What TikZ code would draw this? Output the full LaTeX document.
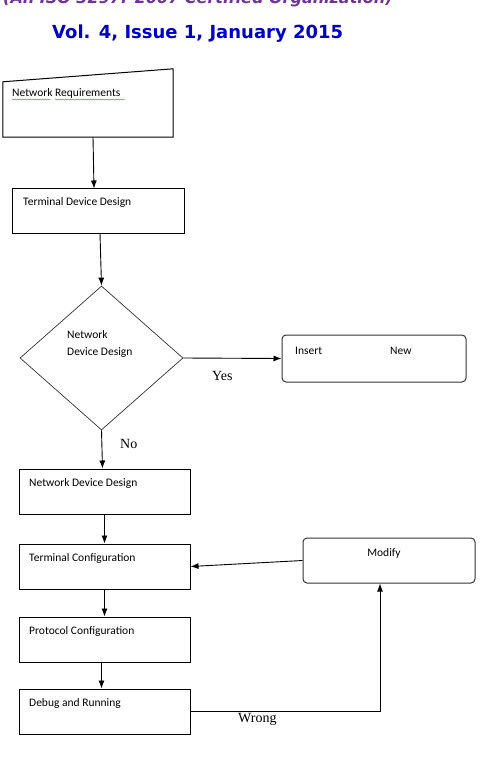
\documentclass[tikz,border=0pt]{standalone}
\usepackage{fontspec}
\usepackage{tikz}
\usetikzlibrary{shapes.geometric,decorations.pathmorphing,arrows.meta}
\newfontfamily\boxfont{Carlito}
\newfontfamily\markfont{Liberation Serif}
\newfontfamily\hdrfont{DejaVu Sans}
\definecolor{hdr_purple}{RGB}{112, 48, 160}
\definecolor{hdr_blue}{RGB}{0, 0, 205}
\definecolor{spell_green}{RGB}{40, 150, 40}
\tikzstyle{box}=[rectangle,draw=black,line width=1pt,inner sep=0pt,
  minimum width=171pt,minimum height=45pt]
\tikzstyle{rbox}=[rectangle,rounded corners=4pt,draw=black!80,line width=1pt,
  inner sep=0pt,minimum width=172pt,minimum height=45pt]
\tikzstyle{decide}=[diamond,draw=black!80,line width=0.7pt,inner sep=0pt,
  minimum width=163pt,minimum height=144pt]
\tikzstyle{txt}=[anchor=base west,inner sep=0pt,font=\boxfont\fontsize{11.5}{13}\selectfont]
\tikzstyle{branch}=[anchor=base west,inner sep=0pt,font=\markfont\fontsize{14}{16}\selectfont]
\tikzstyle{flow}=[-{Latex[length=8pt,width=6pt]},line width=0.9pt]
\begin{document}
\begin{tikzpicture}[x=1pt,y=-1pt]
        \useasboundingbox (0,0) rectangle (479,767);
        % header
        \node [anchor=base west,inner sep=0pt,text=hdr_purple,
          font=\hdrfont\bfseries\itshape\fontsize{16}{18}\selectfont] (h1) at (3,4)
          {(An ISO 3297: 2007 Certified Organization)};
        \node [anchor=base west,inner sep=0pt,text=hdr_blue,
          font=\hdrfont\bfseries\fontsize{18}{20}\selectfont] (h2) at (52,39)
          {Vol. 4, Issue 1, January 2015};
        % boxes
        \node [rectangle,minimum width=170pt,minimum height=68pt] (nr) at (88,103) {};
        \draw [line width=1pt] (nr.south west) -- (nr.south east) -- (nr.north east)
          -- ([yshift=-13pt]nr.north west) -- cycle;
        \node [style=box,minimum width=172pt,minimum height=44pt] (tdd) at (98,211) {};
        \node [style=decide] (dd) at (101.5,358) {};
        \node [style=rbox,minimum width=184pt,minimum height=47pt] (ins) at (374,358.5) {};
        \node [style=box] (ndd) at (104.5,491.5) {};
        \node [style=box] (tc) at (104.5,566.5) {};
        \node [style=rbox] (mod) at (389,560.5) {};
        \node [style=box] (pc) at (104.5,639.5) {};
        \node [style=box] (dbg) at (104.5,711.5) {};
        % texts
        \node [style=txt] (nrt) at (12,97) {Network Requirements};
        \draw [spell_green,line width=0.4pt,decorate,
          decoration={snake,amplitude=0.6pt,segment length=2.5pt}] (12,99.5) -- (51,99.5);
        \draw [spell_green,line width=0.4pt,decorate,
          decoration={snake,amplitude=0.6pt,segment length=2.5pt}] (55,99.5) -- (125,99.5);
        \node [style=txt] (tddt) at (23,206) {Terminal Device Design};
        \node [style=txt] (ddt1) at (67,338) {Network};
        \node [style=txt] (ddt2) at (67,355) {Device Design};
        \node [style=txt] (inst1) at (295,354) {Insert};
        \node [style=txt] (inst2) at (390,354) {New};
        \node [style=txt] (nddt) at (29,486) {Network Device Design};
        \node [style=txt] (tct) at (29,561) {Terminal Configuration};
        \node [style=txt,anchor=base] (modt) at (384,556) {Modify};
        \node [style=txt] (pct) at (29,634) {Protocol Configuration};
        \node [style=txt] (dbgt) at (29,706) {Debug and Running};
        \node [style=branch] (yes) at (212,380) {Yes};
        \node [style=branch] (no) at (120,448) {No};
        \node [style=branch] (wrong) at (238,722) {Wrong};
        % connectors
        \draw [style=flow] ([xshift=5pt]nr.south) to ([xshift=-4pt]tdd.north);
        \draw [style=flow] ([xshift=2pt]tdd.south) to (dd.north);
        \draw [style=flow] (dd.east) to (ins.west);
        \draw [style=flow] (dd.south) to ([xshift=-2pt]ndd.north);
        \draw [style=flow] (ndd.south) to (tc.north);
        \draw [style=flow] (tc.south) to (pc.north);
        \draw [style=flow] ([xshift=-3pt]pc.south) to ([xshift=-3pt]dbg.north);
        \draw [style=flow] (mod.west) to (tc.east);
        \draw [style=flow] (dbg.east) -| ([xshift=-9pt]mod.south);
    \end{tikzpicture}
\end{document}
